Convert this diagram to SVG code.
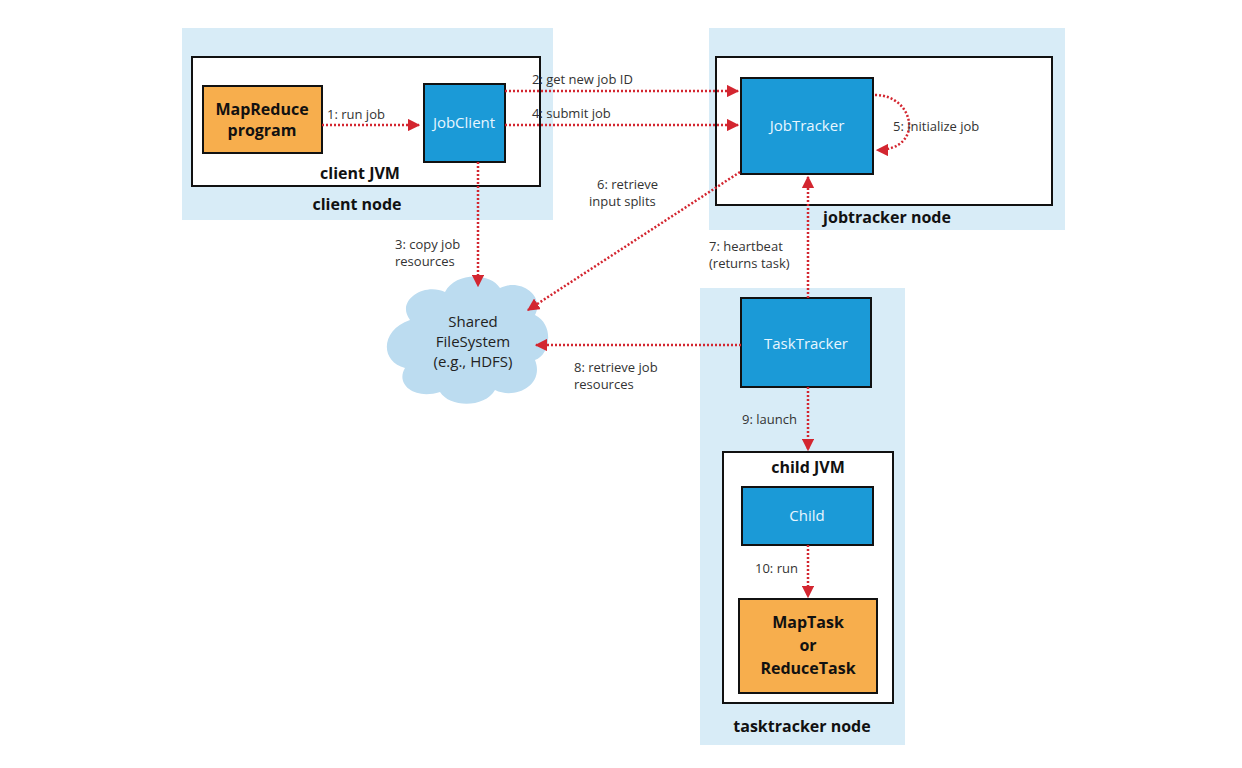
<svg xmlns="http://www.w3.org/2000/svg" width="1242" height="768" viewBox="0 0 1242 768">
<defs>
<style>
.node{fill:#d8ecf7}
.jvm{fill:#fff;stroke:#111;stroke-width:2}
.blue{fill:#1b9ad7;stroke:#111;stroke-width:2}
.orange{fill:#f7ae4d;stroke:#111;stroke-width:2}
.c{stroke:#d32630;stroke-width:2.5;stroke-dasharray:2 2;fill:none;marker-end:url(#ah)}
text{font-family:"Open Sans","Liberation Sans",sans-serif}
.lbl{font-size:13px;fill:#333}
.b{font-size:16px;font-weight:bold;fill:#111;text-anchor:middle}
.w{font-size:15px;fill:#e8f6ff;text-anchor:middle}
</style>
<marker id="ah" viewBox="0 0 10 10" refX="9" refY="5" markerWidth="5" markerHeight="5" orient="auto" markerUnits="strokeWidth"><path d="M0,0L10,5L0,10z" fill="#d32630"/></marker>
</defs>
<rect width="1242" height="768" fill="#fff"/>
<g id="client-node">
<rect class="node" x="182" y="28" width="371" height="192"/>
<rect class="jvm" x="192" y="57" width="348" height="129"/>
<text class="b" x="360" y="179">client JVM</text>
<text class="b" x="357" y="210">client node</text>
</g>
<g id="mapreduce"><rect class="orange" x="203" y="86" width="119" height="67"/><text class="b" x="262" y="115">MapReduce</text><text class="b" x="262" y="136">program</text></g>
<g id="jobclient"><rect class="blue" x="424" y="84" width="81" height="78"/><text class="w" x="464" y="128">JobClient</text></g>
<g id="jobtracker-node">
<rect class="node" x="709" y="28" width="356" height="202"/>
<rect class="jvm" x="716" y="57" width="336" height="148"/>
<text class="b" x="887" y="223">jobtracker node</text>
</g>
<g id="jobtracker"><rect class="blue" x="741" y="78" width="132" height="96"/><text class="w" x="807" y="131">JobTracker</text></g>
<g id="tasktracker-node">
<rect class="node" x="700" y="288" width="205" height="457"/>
<rect class="jvm" x="723" y="452" width="170" height="251"/>
<text class="b" x="808" y="473">child JVM</text>
<text class="b" x="802" y="732">tasktracker node</text>
</g>
<g id="tasktracker"><rect class="blue" x="741" y="298" width="130" height="89"/><text class="w" x="806" y="349">TaskTracker</text></g>
<g id="child"><rect class="blue" x="742" y="487" width="131" height="58"/><text class="w" x="807" y="521">Child</text></g>
<g id="maptask"><rect class="orange" x="739" y="599" width="138" height="94"/><text class="b" x="808" y="628">MapTask</text><text class="b" x="808" y="651">or</text><text class="b" x="808" y="674">ReduceTask</text></g>
<g id="hdfs">
<path d="M410,320 C395,300 425,282 445,292 C455,272 490,272 500,288 C520,278 545,295 535,315 C555,325 550,355 535,360 C545,385 515,400 495,390 C485,408 450,408 440,392 C415,400 395,385 405,368 C380,362 380,330 410,320Z" fill="#bcdcf0"/>
<text font-size="15" fill="#222" text-anchor="middle" x="473" y="327">Shared</text>
<text font-size="15" fill="#222" text-anchor="middle" x="473" y="347">FileSystem</text>
<text font-size="15" fill="#222" text-anchor="middle" x="473" y="367">(e.g., HDFS)</text>
</g>
<g id="connectors">
<line class="c" x1="322" y1="125" x2="419" y2="125"/>
<line class="c" x1="505" y1="91" x2="738" y2="91"/>
<line class="c" x1="505" y1="125" x2="738" y2="125"/>
<path class="c" d="M875,95 C915,95 925,150 877,150"/>
<line class="c" x1="478" y1="162" x2="478" y2="286"/>
<line class="c" x1="740" y1="172" x2="528" y2="310"/>
<line class="c" x1="808" y1="298" x2="808" y2="177"/>
<line class="c" x1="741" y1="345" x2="536" y2="345"/>
<line class="c" x1="808" y1="387" x2="808" y2="450"/>
<line class="c" x1="808" y1="545" x2="808" y2="597"/>
</g>
<g id="labels" class="lbl">
<text x="327" y="119">1: run job</text>
<text x="532" y="84">2: get new job ID</text>
<text x="532" y="118">4: submit job</text>
<text x="893" y="131">5: initialize job</text>
<text x="597" y="189">6: retrieve</text>
<text x="589" y="206">input splits</text>
<text x="395" y="249">3: copy job</text>
<text x="395" y="266">resources</text>
<text x="709" y="251">7: heartbeat</text>
<text x="709" y="268">(returns task)</text>
<text x="574" y="372">8: retrieve job</text>
<text x="574" y="389">resources</text>
<text x="742" y="424">9: launch</text>
<text x="755" y="573">10: run</text>
</g>
</svg>
